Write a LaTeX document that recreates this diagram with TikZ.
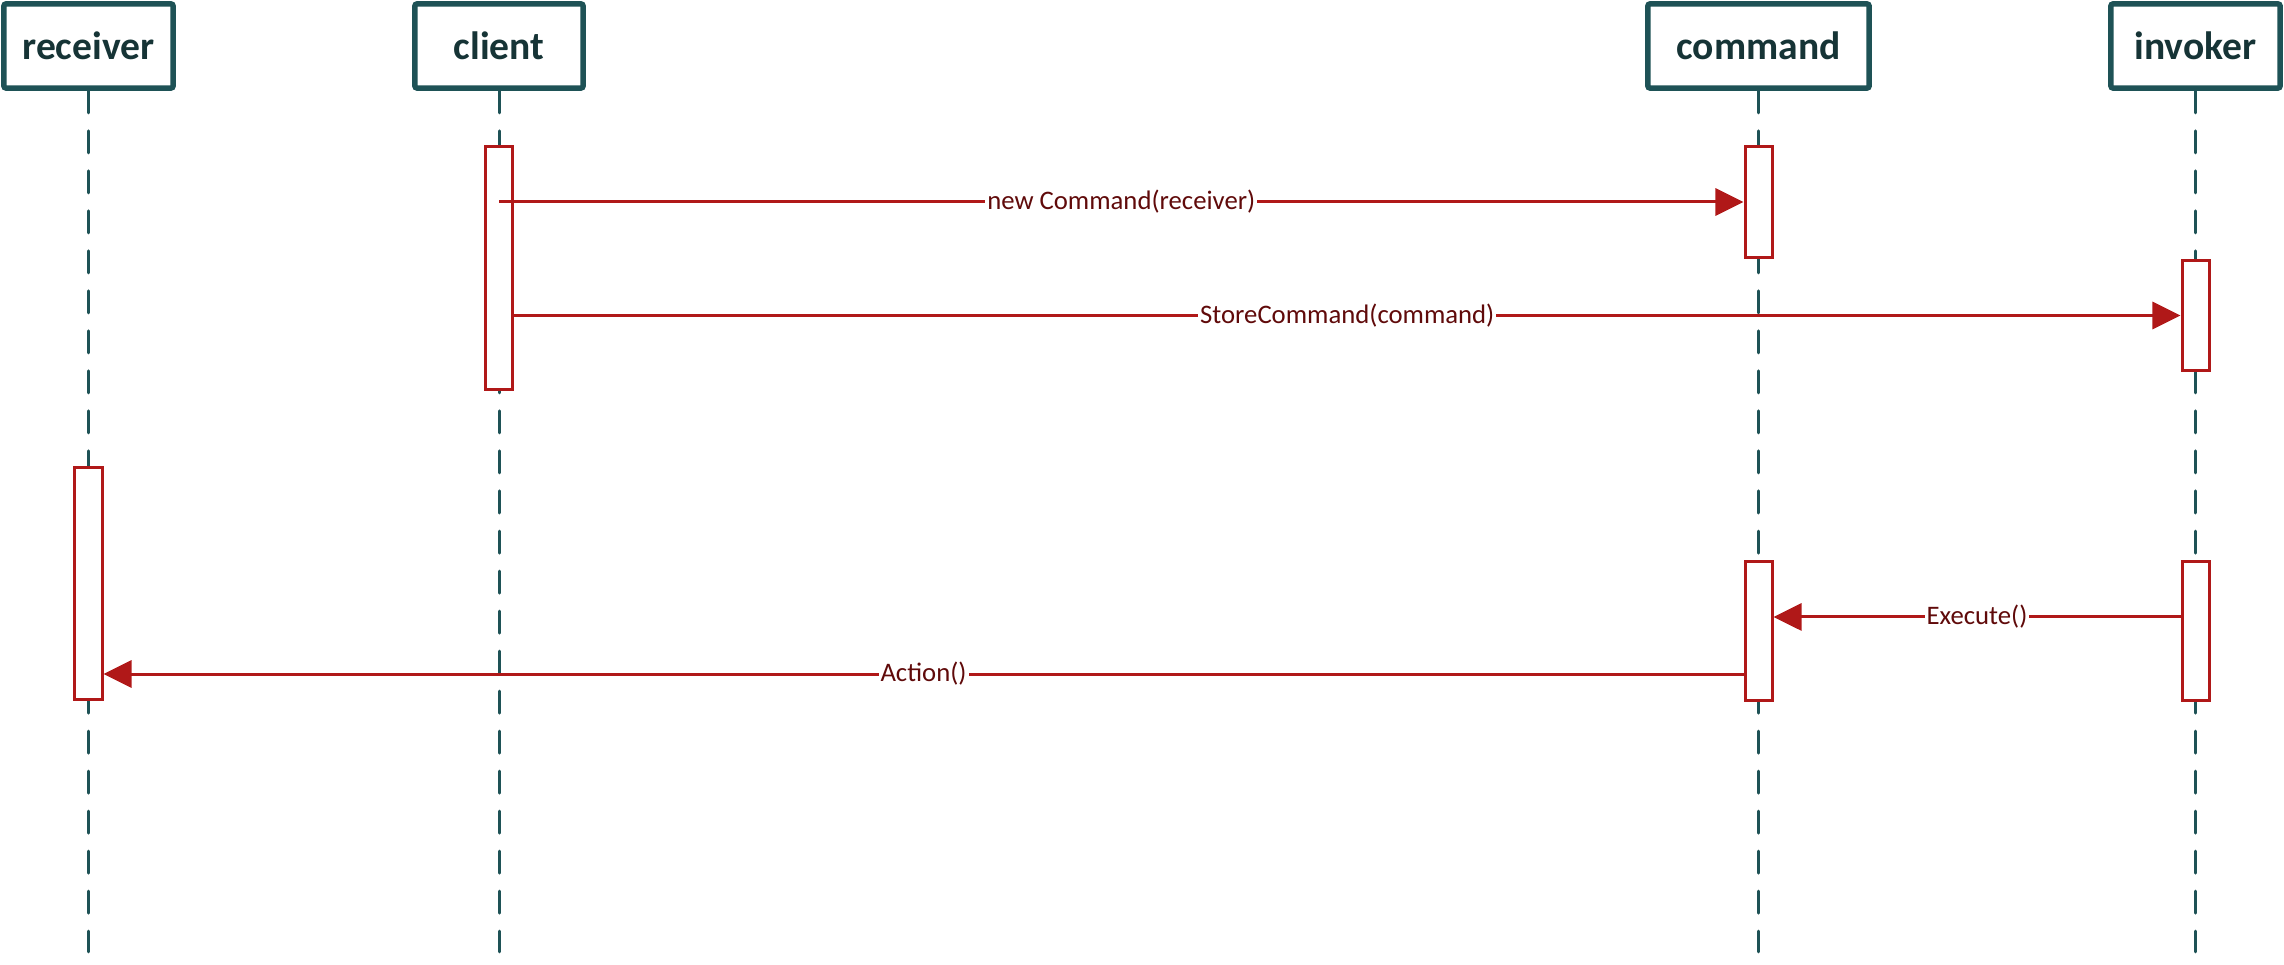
\documentclass[tikz,border=0pt]{standalone}
\usepackage{fontspec}
\setmainfont{Carlito}
\usetikzlibrary{arrows.meta}
\definecolor{headcol}{RGB}{30,82,86}
\definecolor{headtext}{RGB}{22,52,54}
\definecolor{msgred}{RGB}{176,24,24}
\definecolor{lbltext}{RGB}{96,10,10}
\begin{document}
\begin{tikzpicture}[x=0.01cm, y=-0.01cm,
        head/.style={draw=headcol, line width=0.055cm, rounded corners=0.02cm, fill=white,
            minimum height=0.84cm, inner sep=0pt, text=headtext,
            font=\bfseries\fontsize{11.25}{13}\selectfont},
        act/.style={draw=msgred, line width=0.03cm, fill=white, minimum width=0.27cm, inner sep=0pt},
        life/.style={draw=headcol, line width=0.03cm, line cap=round, dash pattern=on 0.22cm off 0.18cm},
        msg/.style={draw=msgred, line width=0.03cm, -{Triangle[length=0.28cm, width=0.27cm]}},
        lbl/.style={fill=white, text=lbltext, inner sep=0.02cm, font=\fontsize{7.6}{9}\selectfont}]
        \useasboundingbox (0,0) rectangle (2284,965);
        \coordinate (bottom) at (0,952);

        \node[head, minimum width=1.69cm] (receiver) at (88.5,46) {receiver};
        \node[head, minimum width=1.68cm] (client) at (499,46) {client};
        \node[head, minimum width=2.21cm] (command) at (1758.5,46) {command};
        \node[head, minimum width=1.69cm] (invoker) at (2195.5,46) {invoker};

        \foreach \who in {receiver, client, command, invoker}
            \draw[life] (\who.south) -- (\who.south |- bottom);

        \node[act, minimum height=2.43cm] (clientA) at (499,268) {};
        \node[act, minimum height=1.11cm] (cmdA) at (1758.5,202) {};
        \node[act, minimum height=1.10cm] (invA) at (2195.5,315.5) {};
        \node[act, minimum height=2.32cm] (rcvA) at (88.5,583.5) {};
        \node[act, minimum height=1.39cm] (cmdB) at (1758.5,631) {};
        \node[act, minimum height=1.39cm] (invB) at (2195.5,631) {};

        \draw[msg] (clientA.center |- cmdA.west) -- node[lbl] {new Command(receiver)} (cmdA.west);
        \draw[msg] (clientA.east |- invA.west) -- node[lbl] {StoreCommand(command)} (invA.west);
        \draw[msg] ([yshift=0.14cm]invB.west) coordinate (exStart)
            -- node[lbl] {Execute()} (exStart -| cmdB.east);
        \draw[msg] ([yshift=-0.43cm]cmdB.west) coordinate (actStart)
            -- node[lbl] {Action()} (actStart -| rcvA.east);
\end{tikzpicture}
\end{document}
